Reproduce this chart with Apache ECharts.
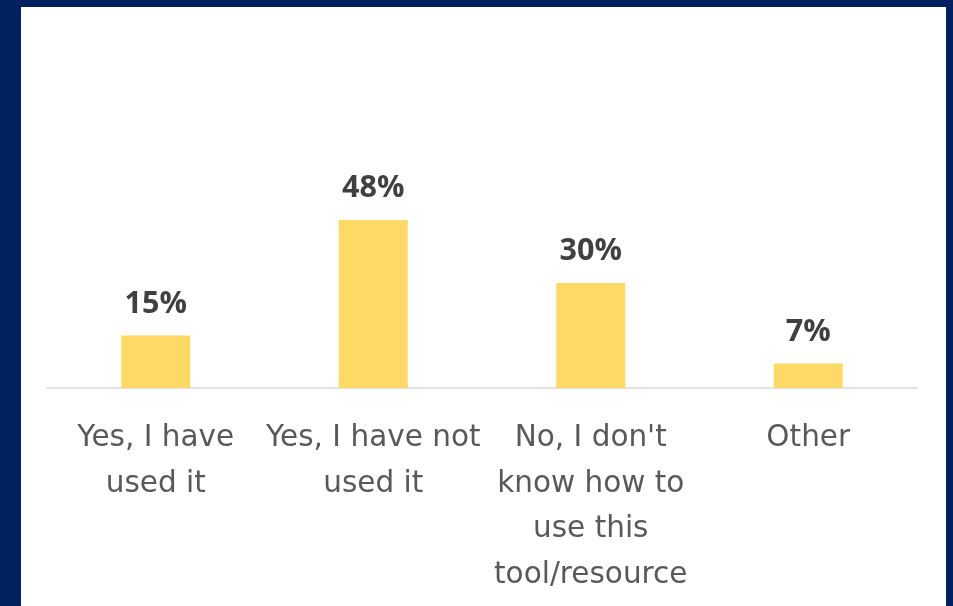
<!DOCTYPE html>
<html>
<head>
<meta charset="utf-8">
<script src="https://cdn.jsdelivr.net/npm/echarts@6/dist/echarts.min.js"></script>
<style>
html,body{margin:0;padding:0;background:#002060;}
#chart{width:953px;height:606px;}
</style>
</head>
<body>
<div id="chart"></div>
<script>
const categories = ["Yes, I have\nused it", "Yes, I have not\nused it", "No, I don't\nknow how to\nuse this\ntool/resource", "Other"];
const values = [15, 48, 30, 7];

const chart = echarts.init(document.getElementById('chart'));
chart.setOption({
  backgroundColor: '#002060',
  animation: false,
  graphic: [{
    type: 'rect', z: -10, silent: true,
    shape: { x: 21, y: 7, width: 925, height: 610 },
    style: { fill: '#ffffff' }
  }],
  grid: { left: 47, right: 36, top: 213, bottom: 218, containLabel: false },
  xAxis: {
    type: 'category',
    data: categories,
    axisLine: { show: true, lineStyle: { color: '#D9D9D9', width: 1.5 } },
    axisTick: { show: false },
    axisLabel: {
      interval: 0,
      margin: 28,
      color: '#595959',
      fontFamily: 'DejaVu Sans',
      fontSize: 29.5,
      lineHeight: 45.5
    }
  },
  yAxis: { type: 'value', min: 0, max: 50, show: false, splitLine: { show: false } },
  series: [{
    type: 'bar',
    data: values,
    barWidth: 69,
    itemStyle: { color: '#FFD966' },
    label: {
      show: true,
      position: 'top',
      distance: 16,
      formatter: '{c}%',
      color: '#404040',
      fontFamily: 'Open Sans',
      fontWeight: 'bold',
      fontSize: 30.5
    }
  }]
});
</script>
</body>
</html>
